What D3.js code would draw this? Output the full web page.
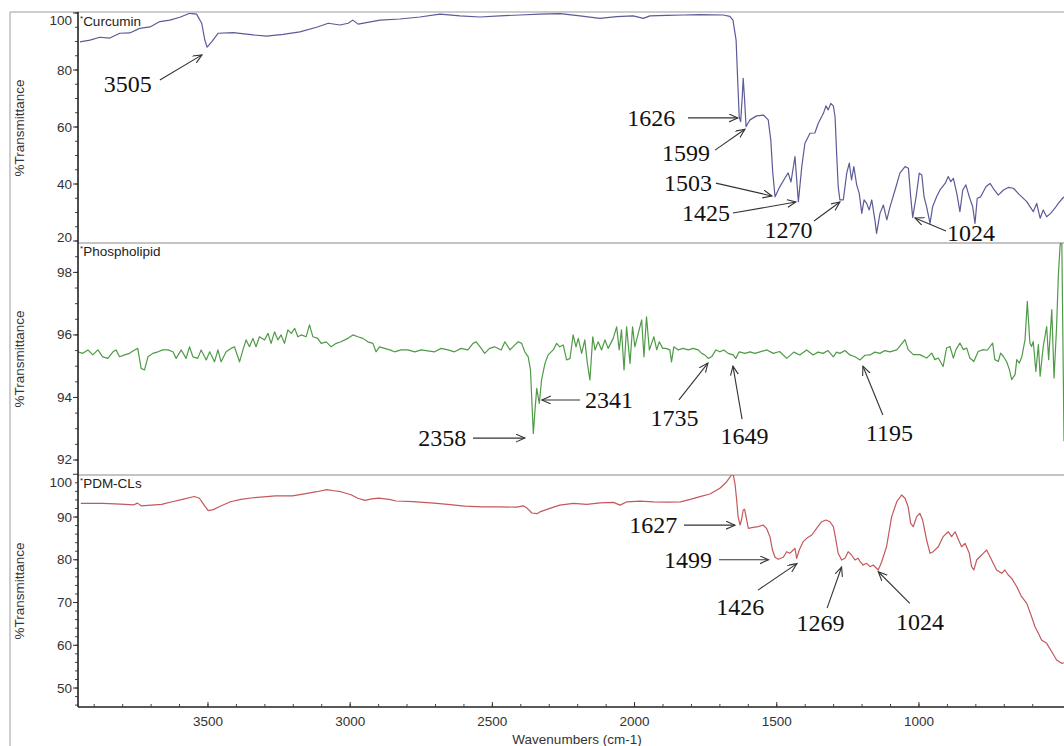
<!DOCTYPE html>
<html>
<head>
<meta charset="utf-8">
<script src="https://cdn.jsdelivr.net/npm/d3@7"></script>
<style>
  html, body { margin: 0; padding: 0; background: #fff; }
  svg { display: block; }
</style>
</head>
<body>
<svg id="chart" width="1064" height="746"></svg>
<script>
// ---------------- DATA ----------------
const xTicks = [3500, 3000, 2500, 2000, 1500, 1000];
const curcuminTicks = [20, 40, 60, 80, 100];
const phospholipidTicks = [92, 94, 96, 98];
const pdmTicks = [50, 60, 70, 80, 90, 100];

// [wavenumber, %T]
const curcumin = [[3950,89.9],[3915,90.5],[3880,91.5],[3845,91.2],[3810,92.9],[3775,93.0],[3740,94.6],[3704,95.1],[3669,97.0],[3634,97.5],[3599,98.5],[3564,99.9],[3540,99.6],[3522,96.4],[3511,90.5],[3503,88.0],[3487,89.9],[3464,92.9],[3411,93.1],[3341,92.3],[3294,91.9],[3236,92.5],[3177,93.4],[3118,95.0],[3077,96.4],[3036,95.8],[3007,96.4],[2991,97.5],[2972,96.1],[2895,97.5],[2825,97.9],[2755,98.6],[2684,99.6],[2614,99.0],[2544,98.6],[2473,99.0],[2403,99.3],[2333,99.6],[2262,99.8],[2192,99.0],[2122,98.1],[2063,98.7],[2005,99.0],[1969,98.1],[1946,99.0],[1887,99.2],[1829,99.3],[1770,99.4],[1688,99.3],[1665,98.8],[1654,97.5],[1643,90.5],[1637,75.4],[1632,63.5],[1627,61.9],[1622,69.5],[1618,77.1],[1613,69.5],[1608,60.1],[1601,61.4],[1594,62.5],[1571,63.9],[1547,64.2],[1530,62.5],[1521,55.4],[1514,43.9],[1506,35.5],[1489,39.1],[1471,42.1],[1460,43.9],[1450,40.7],[1436,49.6],[1424,33.8],[1412,46.1],[1401,54.3],[1383,57.8],[1366,57.9],[1354,61.3],[1336,64.8],[1327,67.4],[1319,66.0],[1310,68.3],[1301,67.4],[1295,63.6],[1290,51.9],[1284,39.1],[1278,34.4],[1266,34.4],[1254,43.8],[1245,47.3],[1237,41.4],[1229,46.1],[1219,39.7],[1210,36.7],[1201,29.7],[1193,34.4],[1184,33.2],[1175,30.9],[1166,34.4],[1155,27.4],[1149,22.7],[1137,29.7],[1125,32.6],[1113,27.4],[1102,31.9],[1084,37.9],[1067,43.8],[1049,46.1],[1037,45.5],[1029,35.5],[1022,28.3],[1010,35.5],[999,43.8],[990,43.2],[982,35.5],[973,32.0],[961,26.2],[952,32.0],[938,35.5],[926,37.9],[908,40.2],[897,42.6],[888,40.8],[879,42.0],[867,36.7],[856,30.3],[846,37.9],[835,39.7],[823,35.5],[811,32.0],[803,26.2],[795,35.0],[783,35.5],[764,39.1],[750,40.2],[739,38.5],[721,36.1],[703,37.9],[686,38.8],[668,38.5],[645,36.1],[621,33.8],[598,30.3],[586,33.2],[574,28.0],[563,30.9],[551,28.5],[537,29.7],[522,31.5],[510,33.2],[495,35.0],[490,35.5]];

const phospholipid = [[3958,95.46],[3940,95.41],[3922,95.52],[3905,95.36],[3887,95.52],[3870,95.30],[3852,95.25],[3834,95.46],[3823,95.52],[3811,95.30],[3793,95.36],[3776,95.41],[3758,95.52],[3747,95.57],[3735,94.93],[3723,94.88],[3711,95.30],[3694,95.41],[3676,95.46],[3659,95.52],[3641,95.52],[3623,95.46],[3612,95.25],[3594,95.52],[3577,95.25],[3565,95.62],[3553,95.30],[3536,95.25],[3524,95.52],[3506,95.20],[3494,95.46],[3477,95.14],[3465,95.52],[3454,95.14],[3436,95.46],[3418,95.57],[3407,95.62],[3389,95.14],[3377,95.52],[3366,95.84],[3354,95.62],[3342,95.89],[3331,95.62],[3319,95.94],[3301,95.84],[3289,96.05],[3278,95.73],[3266,96.10],[3254,95.84],[3243,96.00],[3231,95.73],[3219,96.16],[3207,96.05],[3195,96.21],[3184,95.94],[3172,96.00],[3155,95.94],[3143,96.32],[3131,95.94],[3114,95.89],[3102,95.73],[3084,95.78],[3067,95.62],[3049,95.73],[3032,95.78],[3008,95.89],[2990,96.00],[2973,95.94],[2955,95.89],[2938,95.78],[2920,95.73],[2909,95.46],[2897,95.62],[2879,95.57],[2861,95.52],[2844,95.46],[2821,95.52],[2797,95.52],[2773,95.46],[2750,95.52],[2727,95.49],[2703,95.46],[2680,95.57],[2656,95.52],[2633,95.46],[2610,95.57],[2586,95.52],[2568,95.73],[2557,95.78],[2539,95.57],[2527,95.41],[2510,95.57],[2492,95.62],[2469,95.52],[2456,95.78],[2438,95.52],[2421,95.68],[2409,95.78],[2397,95.73],[2386,95.46],[2374,95.30],[2366,94.88],[2356,92.85],[2350,93.60],[2344,94.29],[2335,93.81],[2327,94.56],[2315,95.09],[2304,95.36],[2286,95.52],[2274,95.73],[2263,95.62],[2251,95.68],[2239,95.20],[2227,95.25],[2216,96.00],[2206,95.62],[2198,95.89],[2186,95.41],[2175,95.84],[2166,95.09],[2157,94.56],[2147,95.94],[2139,95.52],[2128,95.78],[2116,95.52],[2104,95.84],[2093,95.57],[2075,95.89],[2063,96.26],[2054,95.52],[2046,96.16],[2037,94.88],[2028,96.26],[2016,95.09],[2007,96.26],[1999,95.62],[1987,96.05],[1975,96.48],[1967,95.30],[1958,96.58],[1948,95.52],[1940,95.73],[1932,95.94],[1922,95.52],[1913,95.78],[1901,95.57],[1890,95.57],[1876,95.52],[1870,95.14],[1862,95.62],[1846,95.52],[1829,95.57],[1811,95.52],[1794,95.57],[1776,95.52],[1764,95.41],[1753,95.36],[1741,95.25],[1729,95.30],[1714,95.52],[1700,95.46],[1686,95.52],[1671,95.41],[1653,95.36],[1644,95.25],[1632,95.46],[1612,95.41],[1594,95.46],[1577,95.41],[1559,95.46],[1535,95.52],[1512,95.41],[1490,95.47],[1465,95.25],[1440,95.45],[1419,95.36],[1395,95.52],[1372,95.36],[1355,95.45],[1337,95.41],[1320,95.50],[1301,95.30],[1290,95.45],[1278,95.41],[1260,95.50],[1243,95.36],[1225,95.30],[1207,95.20],[1190,95.35],[1172,95.36],[1155,95.45],[1137,95.41],[1120,95.50],[1102,95.46],[1078,95.52],[1049,95.85],[1038,95.53],[1020,95.37],[997,95.37],[973,95.26],[955,95.42],[944,95.21],[932,95.26],[915,94.99],[903,95.58],[891,95.63],[879,95.26],[870,95.53],[856,95.74],[844,95.53],[832,95.58],[821,95.26],[807,95.15],[792,95.47],[774,95.53],[760,95.51],[750,95.63],[741,95.74],[733,95.21],[721,95.15],[713,95.42],[703,95.31],[692,95.15],[682,94.89],[674,94.57],[662,94.73],[656,95.21],[647,95.10],[638,95.31],[627,95.85],[619,97.07],[610,95.74],[604,95.63],[598,95.79],[589,94.83],[580,95.69],[574,94.68],[563,95.63],[551,96.27],[544,95.21],[533,96.81],[525,94.62],[516,96.27],[510,97.87],[504,98.83],[498,99.2],[492,94.35],[490,92.6]];

const pdmCLs = [[3947,93.18],[3869,93.18],[3808,93.02],[3760,92.86],[3748,93.25],[3735,92.62],[3699,92.78],[3663,92.95],[3626,93.58],[3590,94.14],[3548,94.80],[3530,94.40],[3511,92.53],[3499,91.50],[3481,91.73],[3457,92.53],[3421,93.58],[3384,94.14],[3336,94.56],[3263,94.96],[3203,94.96],[3166,95.36],[3118,95.92],[3082,96.41],[3057,96.15],[3033,95.92],[2997,95.20],[2973,94.40],[2948,93.91],[2924,94.23],[2900,94.40],[2863,94.14],[2839,93.75],[2779,93.58],[2706,93.25],[2657,92.95],[2597,92.53],[2536,92.39],[2476,92.39],[2415,92.30],[2391,92.62],[2379,92.13],[2361,90.94],[2343,90.78],[2333,91.2],[2298,92.02],[2263,92.79],[2215,93.18],[2168,92.95],[2121,93.32],[2074,93.42],[2051,92.79],[2027,93.56],[1980,93.72],[1933,93.56],[1886,93.49],[1839,93.56],[1804,94.12],[1770,94.76],[1735,95.38],[1700,96.72],[1676,98.26],[1659,99.83],[1653,99.9],[1647,97.89],[1641,93.98],[1636,90.08],[1629,88.13],[1624,89.3],[1618,91.64],[1613,91.8],[1608,90.08],[1600,87.36],[1583,87.59],[1565,87.74],[1548,88.13],[1536,87.36],[1524,85.4],[1515,82.28],[1506,80.58],[1495,80.11],[1477,80.58],[1465,81.89],[1454,81.51],[1442,82.28],[1436,82.68],[1430,80.34],[1421,82.28],[1407,84.23],[1395,85.02],[1377,85.79],[1360,87.36],[1342,88.9],[1327,89.3],[1313,88.9],[1301,87.74],[1292,84.62],[1284,81.51],[1272,79.94],[1260,80.34],[1249,81.89],[1237,81.12],[1225,79.94],[1214,80.34],[1207,79.55],[1196,78.77],[1184,79.17],[1172,78.38],[1161,78.77],[1143,77.61],[1131,79.55],[1114,83.05],[1096,90.08],[1078,93.58],[1061,95.15],[1049,94.38],[1038,92.41],[1029,88.53],[1020,87.74],[1008,90.08],[997,90.87],[987,89.3],[973,84.62],[961,81.51],[950,81.89],[932,83.05],[915,85.4],[897,86.56],[885,85.4],[873,86.56],[858,84.23],[850,83.05],[838,83.85],[823,81.51],[815,78.38],[807,77.61],[797,79.94],[786,80.71],[774,81.51],[762,82.28],[753,81.12],[739,79.17],[727,77.61],[709,76.83],[698,77.61],[686,76.44],[674,75.66],[656,73.7],[639,71.36],[621,69.81],[604,66.68],[592,64.34],[580,62.79],[569,61.23],[551,60.45],[533,58.49],[516,56.55],[498,55.78],[490,55.92]];

// annotations: label, text centre (wn, %T), arrow start (wn, %T), arrow tip (wn, %T)
const curcuminNotes = [
  ["3505", 3782, 75.1, 3669, 76.5, 3521, 85.3],
  ["1626", 1941, 63.2, 1812, 63.2, 1637, 63.2],
  ["1599", 1819, 50.9, 1717, 51.9, 1612, 59.2],
  ["1503", 1812, 40.3, 1714, 40.3, 1517, 35.8],
  ["1425", 1749, 29.8, 1654, 29.8, 1433, 33.7],
  ["1270", 1459, 23.9, 1369, 27.0, 1278, 33.7],
  ["1024", 817, 22.8, 905, 23.5, 1014, 28.1]
];
const phospholipidNotes = [
  ["2358", 2676, 92.70, 2568, 92.70, 2386, 92.70],
  ["2341", 2090, 93.92, 2192, 93.92, 2326, 93.92],
  ["1735", 1860, 93.34, 1844, 93.92, 1742, 95.10],
  ["1649", 1613, 92.76, 1622, 93.31, 1654, 95.00],
  ["1195", 1104, 92.86, 1127, 93.44, 1197, 95.00]
];
const pdmNotes = [
  ["1627", 1934, 88.1, 1826, 88.1, 1647, 88.1],
  ["1499", 1812, 80.0, 1703, 80.0, 1529, 80.0],
  ["1426", 1628, 69.0, 1566, 72.9, 1429, 79.1],
  ["1269", 1346, 65.1, 1323, 68.7, 1272, 78.3],
  ["1024", 996, 65.5, 1032, 69.8, 1143, 77.2]
];

// ---------------- LAYOUT ----------------
const W = 1064, H = 746;
const left = 78, right = 1064;
const svg = d3.select("#chart");
const sans = "'Liberation Sans', Arial, Helvetica, sans-serif";
const serif = "'Liberation Serif', 'Times New Roman', serif";

svg.append("rect").attr("width", W).attr("height", H).attr("fill", "#fff");

const x = d3.scaleLinear().domain([3957, 490]).range([left, right]);

const panels = [
  { name: "Curcumin", data: curcumin, color: "#5b5b98", top: 13, bottom: 243,
    domain: [19.3, 100], ticks: curcuminTicks, minor: 5, notes: curcuminNotes },
  { name: "Phospholipid", data: phospholipid, color: "#4f9a47", top: 243, bottom: 475,
    domain: [91.52, 98.94], ticks: phospholipidTicks, minor: 0.5, notes: phospholipidNotes },
  { name: "PDM-CLs", data: pdmCLs, color: "#c4585b", top: 475, bottom: 707,
    domain: [45.56, 99.83], ticks: pdmTicks, minor: 2, notes: pdmNotes }
];

// outer frame
svg.append("line").attr("x1", 10).attr("x2", 10).attr("y1", 12).attr("y2", H)
  .attr("stroke", "#bdbdbd").attr("stroke-width", 1.5);
svg.append("line").attr("x1", 10).attr("x2", W).attr("y1", 12).attr("y2", 12)
  .attr("stroke", "#bdbdbd").attr("stroke-width", 1.5);

const defs = svg.append("defs");
defs.append("marker").attr("id", "arrow")
  .attr("markerUnits", "userSpaceOnUse")
  .attr("markerWidth", 12).attr("markerHeight", 10)
  .attr("refX", 9).attr("refY", 4).attr("orient", "auto")
  .append("path").attr("d", "M0,0 L9,4 L0,8")
  .attr("fill", "none").attr("stroke", "#333").attr("stroke-width", 1.1);

panels.forEach((p, i) => {
  const y = d3.scaleLinear().domain(p.domain).range([p.bottom, p.top]);

  defs.append("clipPath").attr("id", "clip" + i)
    .append("rect").attr("x", left).attr("y", p.top)
    .attr("width", right - left).attr("height", p.bottom - p.top);

  // panel separator (bottom border of upper panels)
  if (i < 2) {
    svg.append("line").attr("x1", left).attr("x2", W)
      .attr("y1", p.bottom).attr("y2", p.bottom)
      .attr("stroke", "#b0b0b0").attr("stroke-width", 1.5);
  }

  // minor y ticks
  const minorVals = d3.range(Math.ceil(p.domain[0] / p.minor) * p.minor, p.domain[1] + 1e-9, p.minor);
  svg.append("g").selectAll("line").data(minorVals).join("line")
    .attr("x1", left - 3).attr("x2", left)
    .attr("y1", d => y(d)).attr("y2", d => y(d))
    .attr("stroke", "#444").attr("stroke-width", 1);
  // major y ticks
  svg.append("g").selectAll("line").data(p.ticks).join("line")
    .attr("x1", left - 5).attr("x2", left)
    .attr("y1", d => y(d)).attr("y2", d => y(d))
    .attr("stroke", "#333").attr("stroke-width", 1);
  svg.append("g").selectAll("text").data(p.ticks).join("text")
    .attr("x", left - 6)
    .attr("y", d => Math.max(p.top + 7, Math.min(p.bottom - 6, y(d))))
    .attr("text-anchor", "end").attr("dominant-baseline", "central")
    .attr("font-family", sans).attr("font-size", 13.5).attr("fill", "#333")
    .text(d => d);

  // y axis title
  svg.append("text")
    .attr("transform", `translate(19,${(p.top + p.bottom) / 2}) rotate(-90)`)
    .attr("text-anchor", "middle").attr("dominant-baseline", "central")
    .attr("font-family", sans).attr("font-size", 13.5).attr("fill", "#333")
    .text("%Transmittance");

  // spectrum
  const line = d3.line().x(d => x(d[0])).y(d => y(d[1]));
  svg.append("path").datum(p.data)
    .attr("clip-path", `url(#clip${i})`)
    .attr("d", line).attr("fill", "none")
    .attr("stroke", p.color).attr("stroke-width", 1.2)
    .attr("stroke-linejoin", "round");

  // sample label
  const lab = svg.append("text").attr("x", left + 2).attr("y", p.top + 8)
    .attr("dominant-baseline", "central")
    .attr("font-family", sans).attr("font-size", 13.5).attr("fill", "#222");
  lab.append("tspan").attr("font-size", 8).attr("dy", -3).text("*");
  lab.append("tspan").attr("dy", 3).text(p.name);

  // annotations
  const g = svg.append("g");
  p.notes.forEach(n => {
    g.append("line")
      .attr("x1", x(n[3])).attr("y1", y(n[4]))
      .attr("x2", x(n[5])).attr("y2", y(n[6]))
      .attr("stroke", "#333").attr("stroke-width", 1.1)
      .attr("marker-end", "url(#arrow)");
    g.append("text").attr("x", x(n[1])).attr("y", y(n[2]))
      .attr("text-anchor", "middle").attr("dominant-baseline", "central")
      .attr("font-family", serif).attr("font-size", 24).attr("fill", "#111")
      .text(n[0]);
  });
});

// y axis line
svg.append("line").attr("x1", left).attr("x2", left).attr("y1", 12).attr("y2", 707)
  .attr("stroke", "#222").attr("stroke-width", 1.6);

// x axis
const xBase = 707;
svg.append("line").attr("x1", left).attr("x2", W).attr("y1", xBase).attr("y2", xBase)
  .attr("stroke", "#222").attr("stroke-width", 1.6);
const xMinor = d3.range(600, 3957, 100);
svg.append("g").selectAll("line").data(xMinor).join("line")
  .attr("x1", d => x(d)).attr("x2", d => x(d))
  .attr("y1", xBase - 3).attr("y2", xBase)
  .attr("stroke", "#444").attr("stroke-width", 1);
svg.append("g").selectAll("line").data(xTicks).join("line")
  .attr("x1", d => x(d)).attr("x2", d => x(d))
  .attr("y1", xBase - 5).attr("y2", xBase)
  .attr("stroke", "#333").attr("stroke-width", 1);
svg.append("g").selectAll("text").data(xTicks).join("text")
  .attr("x", d => x(d)).attr("y", 721)
  .attr("text-anchor", "middle").attr("dominant-baseline", "central")
  .attr("font-family", sans).attr("font-size", 13.5).attr("fill", "#333")
  .text(d => d);
svg.append("text").attr("x", 577).attr("y", 739)
  .attr("text-anchor", "middle").attr("dominant-baseline", "central")
  .attr("font-family", sans).attr("font-size", 13.5).attr("fill", "#333")
  .text("Wavenumbers (cm-1)");
</script>
</body>
</html>
